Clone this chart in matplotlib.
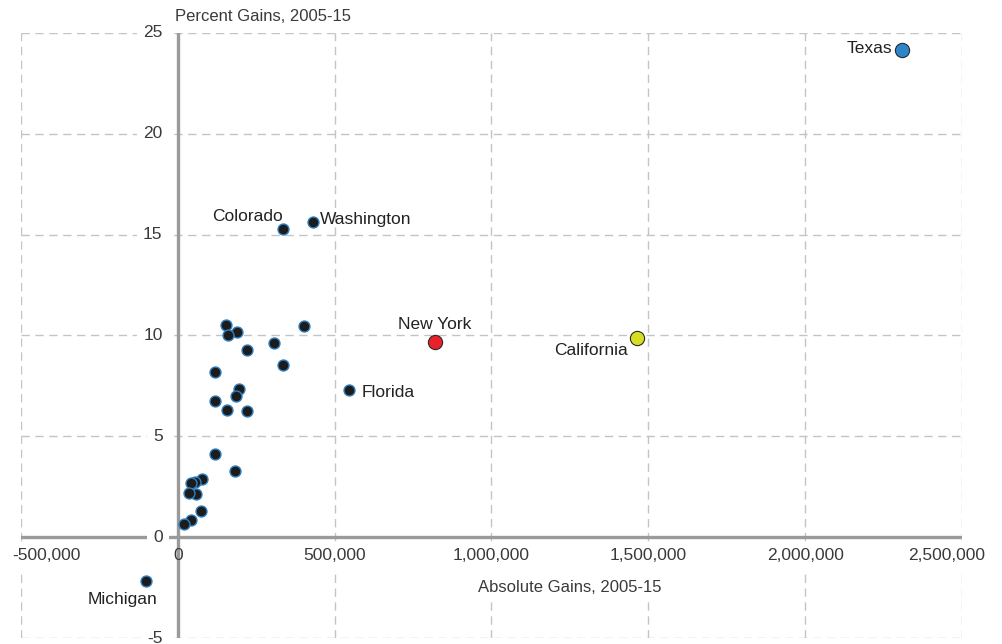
import matplotlib
matplotlib.use("Agg")
import matplotlib.pyplot as plt

plt.rcParams['font.family'] = ['Liberation Sans', 'DejaVu Sans']

# Highlighted states
labeled_names = ["Texas", "California", "New York", "Florida", "Washington", "Colorado", "Michigan"]
labeled_abs = [2310000, 1463000, 819000, 547000, 430000, 334000, -100000]
labeled_pct = [24.15, 9.9, 9.67, 7.29, 15.62, 15.3, -2.18]

# Remaining states (unlabeled)
other_abs = [154000, 188000, 159000, 402000, 305000, 222000, 336000, 117000, 196000,
             184000, 118000, 158000, 222000, 118000, 183000, 78000, 55000, 43000,
             59000, 37000, 73000, 43000, 21000]
other_pct = [10.51, 10.15, 10.03, 10.45, 9.65, 9.29, 8.54, 8.21, 7.35,
             6.99, 6.73, 6.33, 6.25, 4.10, 3.27, 2.86, 2.74, 2.71,
             2.15, 2.17, 1.32, 0.83, 0.66]

x_ticks = [-500000, 0, 500000, 1000000, 1500000, 2000000, 2500000]
y_ticks = [-5, 0, 5, 10, 15, 20, 25]

fig = plt.figure(figsize=(10.02, 6.44), dpi=100)
ax = fig.add_axes([0.021, 0.0093, 0.939, 0.9395])
ax.set_xlim(-500000, 2500000)
ax.set_ylim(-5, 25)
ax.axis('off')

grid_kw = dict(color='#c4c4c4', lw=1.0, ls=(0, (6, 4)), zorder=1)
for xt in x_ticks:
    if xt != 0:
        ax.axvline(xt, **grid_kw)
for yt in y_ticks:
    if yt != 0:
        ax.axhline(yt, **grid_kw)

# zero axes
ax.axhline(0, color='#9a9a9a', lw=2.4, zorder=2)
ax.axvline(0, color='#9a9a9a', lw=2.4, zorder=2)

tick_color = '#3a3a3a'
white = dict(boxstyle='square,pad=0.35', fc='white', ec='none')

for yt in y_ticks:
    ax.annotate(f"{yt}", xy=(0, yt), xytext=(-11, 0), textcoords='offset points',
                ha='right', va='center', fontsize=12.5, color=tick_color,
                bbox=white, zorder=3)

x_shift = {-500000: 18, 2500000: -11}
for xt in x_ticks:
    ax.annotate(f"{xt:,}", xy=(xt, 0), xytext=(x_shift.get(xt, 0), -13),
                textcoords='offset points', ha='center', va='center',
                fontsize=12.5, color=tick_color,
                bbox=None if xt == 0 else white, zorder=3)

ax.annotate("Absolute Gains, 2005-15", xy=(1250000, 0), xytext=(0, -36),
            textcoords='offset points', ha='center', va='center',
            fontsize=12, color=tick_color, bbox=white, zorder=3)
ax.annotate("Percent Gains, 2005-15", xy=(0, 25), xytext=(-2, 12),
            textcoords='offset points', ha='left', va='center',
            fontsize=12, color=tick_color, annotation_clip=False)

# points
ax.scatter(other_abs, other_pct, s=62, c='#1c1c1c', edgecolors='#2e7fc0',
           linewidths=1.0, zorder=5)
face = {"Texas": '#2e86c8', "California": '#d6de22', "New York": '#e8212a'}
for name, xa, yp in zip(labeled_names, labeled_abs, labeled_pct):
    if name in face:
        ax.scatter([xa], [yp], s=105, c=face[name], edgecolors='#2a2a2a',
                   linewidths=0.8, zorder=6)
    else:
        ax.scatter([xa], [yp], s=62, c='#1c1c1c', edgecolors='#2e7fc0',
                   linewidths=1.0, zorder=5)

label_pos = {
    "Texas": ((-7, 1), 'right'),
    "California": ((-6, -9), 'right'),
    "New York": ((0, 13), 'center'),
    "Florida": ((9, -2), 'left'),
    "Washington": ((5, 2), 'left'),
    "Colorado": ((0, 9), 'right'),
    "Michigan": ((-17, -13), 'center'),
}
for name, xa, yp in zip(labeled_names, labeled_abs, labeled_pct):
    off, ha = label_pos[name]
    ax.annotate(name, xy=(xa, yp), xytext=off, textcoords='offset points',
                ha=ha, va='center', fontsize=12.5, color='#222222', zorder=7)

fig.savefig("out.png", dpi=100)
